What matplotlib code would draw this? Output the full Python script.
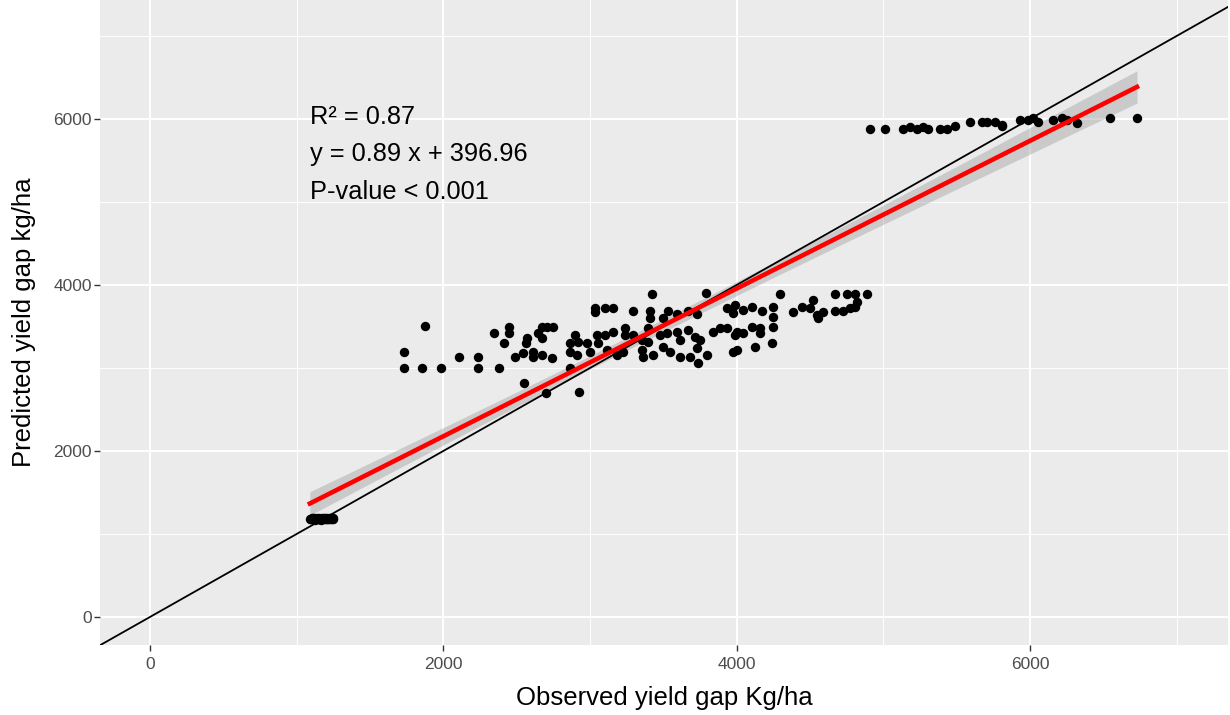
import numpy as np
import matplotlib.pyplot as plt

# observed vs predicted yield gap (kg/ha)
obs_low = [1090, 1095, 1100, 1105, 1110, 1115, 1120, 1125, 1130, 1135, 1140, 1145,
           1150, 1155, 1160, 1165, 1170, 1175, 1180, 1185, 1190, 1195, 1200, 1205,
           1210, 1215, 1220, 1225, 1230, 1235, 1240, 1245, 1250]
pred_low = [1185, 1178, 1175, 1192, 1190, 1180, 1195, 1172, 1185, 1175, 1190, 1182,
            1180, 1195, 1185, 1170, 1175, 1190, 1180, 1188, 1195, 1185, 1175, 1178,
            1190, 1180, 1185, 1192, 1190, 1176, 1180, 1188, 1185]

obs_left = [1875, 1732, 1732, 1855, 1984, 2107, 2236, 2236, 2345, 2448, 2448, 2414,
            2380, 2489, 2543, 2570, 2564, 2611, 2673, 2611, 2645, 2673, 2707, 2748,
            2673, 2741, 2550, 2700, 2864, 2864, 2898, 2918, 2911, 2864, 2925]
pred_left = [3506, 3193, 3000, 3000, 3000, 3133, 3133, 3000, 3422, 3494, 3422, 3301,
             3000, 3133, 3181, 3361, 3301, 3133, 3157, 3193, 3422, 3494, 3494, 3494,
             3361, 3120, 2819, 2699, 3301, 3193, 3398, 3313, 3157, 3000, 2711]

obs_mid = [3423, 3791, 3034, 3102, 3157, 3034, 3293, 3409, 3532, 3593, 3668, 3729,
           3934, 3975, 3409, 3498, 3048, 3102, 3157, 3239, 3239, 3293, 3354, 3395,
           3395, 3477, 3525, 3593, 3614, 3668, 3716, 3750, 3839, 3886, 3934, 3989,
           2980, 3000, 3054, 3116, 3184, 3225, 3354, 3361, 3430, 3614, 3682, 3736,
           3798, 3975, 3498, 3545, 3729]
pred_mid = [3892, 3904, 3723, 3723, 3723, 3675, 3687, 3687, 3687, 3651, 3687, 3651,
            3723, 3663, 3602, 3602, 3398, 3398, 3434, 3482, 3398, 3398, 3337, 3482,
            3313, 3398, 3422, 3434, 3337, 3458, 3373, 3337, 3434, 3482, 3482, 3398,
            3301, 3193, 3301, 3217, 3157, 3193, 3217, 3133, 3157, 3133, 3133, 3060,
            3157, 3193, 3253, 3193, 3241]

obs_right = [4295, 3989, 4043, 4105, 4173, 4248, 4248, 4248, 4002, 4043, 4105, 4159,
             4159, 4125, 4241, 4002, 4384, 4445, 4520, 4500, 4548, 4555, 4589, 4670,
             4752, 4807, 4889, 4820, 4670, 4725, 4773, 4807]
pred_right = [3892, 3759, 3699, 3735, 3687, 3735, 3614, 3494, 3434, 3422, 3494, 3482,
              3422, 3253, 3301, 3217, 3675, 3735, 3819, 3723, 3639, 3602, 3675, 3892,
              3892, 3892, 3892, 3795, 3687, 3687, 3723, 3735]

obs_top = [4909, 5011, 5134, 5182, 5229, 5270, 5305, 5386, 5434, 5489, 5591, 5673,
           5707, 5761, 5809, 5809, 5932, 5986, 6020, 6054, 6157, 6218, 6252, 6320,
           6545, 6730]
pred_top = [5880, 5880, 5880, 5904, 5880, 5904, 5880, 5880, 5880, 5916, 5964, 5964,
            5964, 5964, 5916, 5928, 5988, 5988, 6012, 5964, 5988, 6012, 5988, 5952,
            6012, 6012]

# fitted model shown on the chart
slope = 0.89
intercept = 396.96
label_lines = ["R\u00b2 = 0.87", "y = 0.89 x + 396.96", "P-value < 0.001"]

x = np.array(obs_low + obs_left + obs_mid + obs_right + obs_top, dtype=float)
y = np.array(pred_low + pred_left + pred_mid + pred_right + pred_top, dtype=float)

plt.rcParams['font.family'] = ['Liberation Sans', 'DejaVu Sans']

fig = plt.figure(figsize=(12.3, 7.15), dpi=100)
ax = fig.add_axes([0.0813, 0.098, 0.917, 0.902])
ax.set_facecolor('#EBEBEB')
for s in ax.spines.values():
    s.set_visible(False)

ax.set_xlim(-341, 7350)
ax.set_ylim(-337, 7434)
ax.set_xticks([0, 2000, 4000, 6000])
ax.set_yticks([0, 2000, 4000, 6000])
ax.set_xticks([1000, 3000, 5000, 7000], minor=True)
ax.set_yticks([1000, 3000, 5000, 7000], minor=True)
ax.grid(which='major', color='white', lw=1.4)
ax.grid(which='minor', color='white', lw=0.7)
ax.set_axisbelow(True)
ax.tick_params(which='major', length=4, width=1, color='#333333',
               labelsize=12.5, labelcolor='#4D4D4D')
ax.tick_params(axis='x', pad=5)
ax.tick_params(axis='y', pad=2)
ax.tick_params(which='minor', length=0)

# confidence band (95%) around the fitted line
n = len(x)
resid = y - (slope * x + intercept)
s_err = np.sqrt(np.sum(resid ** 2) / (n - 2))
xs = np.linspace(x.min(), x.max(), 200)
ys = slope * xs + intercept
se = s_err * np.sqrt(1 / n + (xs - x.mean()) ** 2 / np.sum((x - x.mean()) ** 2))
ax.fill_between(xs, ys - 1.97 * se, ys + 1.97 * se, color='#999999', alpha=0.4, lw=0, zorder=2)

ax.scatter(x, y, s=46, color='black', zorder=3, lw=0)
ax.axline((0, 0), slope=1, color='black', lw=1.3, zorder=4)
ax.plot(xs, ys, color='red', lw=3.3, zorder=5)

for i, t in enumerate(label_lines):
    ax.text(1091, 6030 - i * 452, t, fontsize=18.3, va='center', ha='left')

ax.set_xlabel("Observed yield gap Kg/ha", fontsize=18.5, labelpad=10)
ax.set_ylabel("Predicted yield gap kg/ha", fontsize=18.5, labelpad=12)

fig.savefig("out.png", dpi=100)
